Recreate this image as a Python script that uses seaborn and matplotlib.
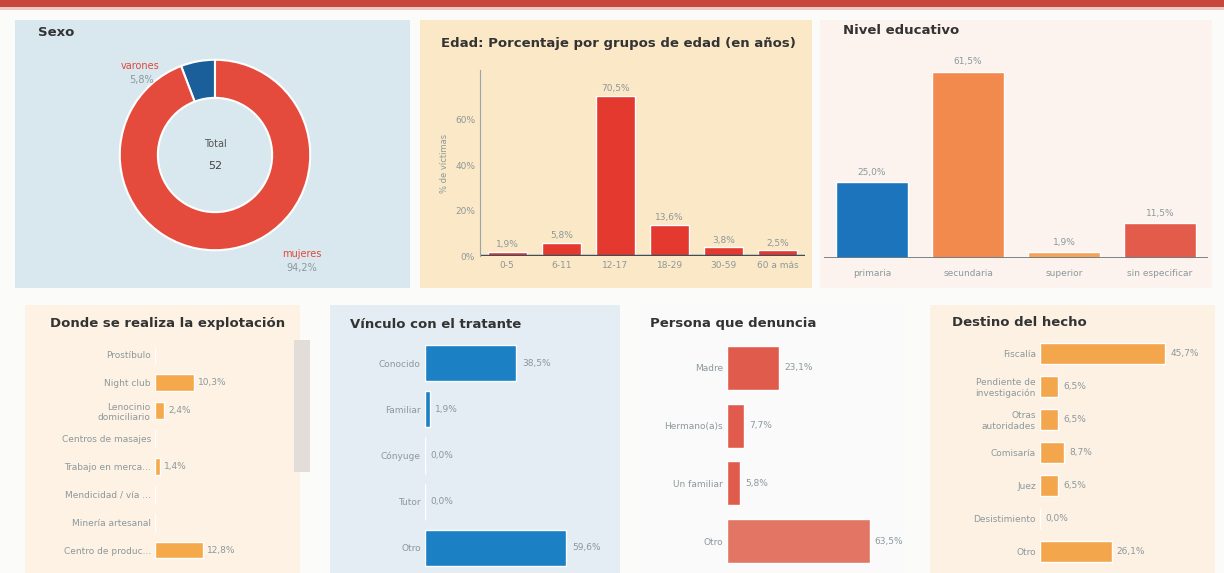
import matplotlib
matplotlib.use('Agg')
import matplotlib.pyplot as plt
import seaborn as sns
from matplotlib.patches import Rectangle

# ---- data ----
sexo_labels = ['varones', 'mujeres']
sexo_pct = [5.8, 94.2]
sexo_total = 52

edad_grupos = ['0-5', '6-11', '12-17', '18-29', '30-59', '60 a más']
edad_pct = [1.9, 5.8, 70.5, 13.6, 3.8, 2.5]

nivel_cats = ['primaria', 'secundaria', 'superior', 'sin especificar']
nivel_pct = [25.0, 61.5, 1.9, 11.5]

donde_cats = ['Prostíbulo', 'Night club', 'Lenocinio\ndomiciliario', 'Centros de masajes',
              'Trabajo en merca...', 'Mendicidad / vía ...', 'Minería artesanal', 'Centro de produc...']
donde_pct = [0.0, 10.3, 2.4, 0.0, 1.4, 0.0, 0.0, 12.8]
donde_lbl = ['', '10,3%', '2,4%', '', '1,4%', '', '', '12,8%']

vinculo_cats = ['Conocido', 'Familiar', 'Cónyuge', 'Tutor', 'Otro']
vinculo_pct = [38.5, 1.9, 0.0, 0.0, 59.6]

persona_cats = ['Madre', 'Hermano(a)s', 'Un familiar', 'Otro']
persona_pct = [23.1, 7.7, 5.8, 63.5]

destino_cats = ['Fiscalía', 'Pendiente de\ninvestigación', 'Otras\nautoridades', 'Comisaría',
                'Juez', 'Desistimiento', 'Otro']
destino_pct = [45.7, 6.5, 6.5, 8.7, 6.5, 0.0, 26.1]

W, H = 1224, 573
sns.set_style('white')
plt.rcParams['font.family'] = ['DejaVu Sans']
fig = plt.figure(figsize=(W / 100, H / 100), dpi=100, facecolor='#fbfbfa')

GRAY = '#8c989c'
TITLE = '#333333'


def fmt(v):
    return f'{v:.1f}%'.replace('.', ',')


def panel(x0, y0, x1, y1, color):
    fig.add_artist(Rectangle((x0 / W, 1 - y1 / H), (x1 - x0) / W, (y1 - y0) / H,
                             transform=fig.transFigure, facecolor=color, edgecolor='none', zorder=0))


def axes_px(x0, y0, x1, y1):
    ax = fig.add_axes([x0 / W, 1 - y1 / H, (x1 - x0) / W, (y1 - y0) / H])
    ax.set_facecolor('none')
    return ax


def ftext(x, y, s, **kw):
    fig.text(x / W, 1 - y / H, s, **kw)


# top red band
panel(0, 0, W, 7, '#c8473c')
panel(0, 7, W, 10, '#efc9c4')

# panel backgrounds
panel(15, 20, 410, 288, '#d9e7ee')
panel(420, 20, 812, 288, '#fbe8c6')
panel(820, 20, 1212, 288, '#fcf3ee')
panel(25, 305, 300, 573, '#fdf2e4')
panel(330, 305, 620, 573, '#e3edf3')
panel(640, 305, 905, 573, '#fafafa')
panel(930, 305, 1215, 573, '#fdf1e4')

# titles
tkw = dict(fontsize=9.5, fontweight='bold', color=TITLE, va='center', ha='left')
ftext(38, 33, 'Sexo', **tkw)
ftext(441, 44, 'Edad: Porcentaje por grupos de edad (en años)', **tkw)
ftext(843, 30, 'Nivel educativo', **tkw)
ftext(50, 324, 'Donde se realiza la explotación', **tkw)
ftext(350, 324, 'Vínculo con el tratante', **tkw)
ftext(650, 324, 'Persona que denuncia', **tkw)
ftext(952, 322, 'Destino del hecho', **tkw)

# ---- Sexo donut ----
ax = axes_px(115, 55, 315, 255)
ax.pie(sexo_pct, colors=['#1a5e9a', '#e54b3c'], startangle=90, counterclock=True,
       wedgeprops=dict(width=0.4, edgecolor='white', linewidth=1.5))
ax.set_xlim(-1.05, 1.05)
ax.set_ylim(-1.05, 1.05)
ax.set_aspect('equal')
ax.text(0, 0.12, 'Total', ha='center', va='center', fontsize=7, color='#555555')
ax.text(0, -0.12, str(sexo_total), ha='center', va='center', fontsize=8, color='#444444')
ftext(140, 66, sexo_labels[0], fontsize=7, color='#e0483c', ha='center', va='center')
ftext(142, 80, fmt(sexo_pct[0]), fontsize=7, color=GRAY, ha='center', va='center')
ftext(302, 254, sexo_labels[1], fontsize=7, color='#e0483c', ha='center', va='center')
ftext(302, 268, fmt(sexo_pct[1]), fontsize=7, color=GRAY, ha='center', va='center')

# ---- Edad ----
ax = axes_px(480, 70, 805, 256)
sns.barplot(x=edad_grupos, y=edad_pct, color='#e3392f', width=0.72, ax=ax, saturation=1)
ax.set_ylim(0, 82)
ax.set_yticks([0, 20, 40, 60])
ax.set_yticklabels(['0%', '20%', '40%', '60%'])
ax.bar_label(ax.containers[0], labels=[fmt(v) for v in edad_pct], fontsize=6.5, color=GRAY, padding=2)
ax.axhline(0, color='#3d4f5c', lw=2.5)
sns.despine(ax=ax, top=True, right=True)
ax.spines['left'].set_color('#9aa5a8')
ax.spines['bottom'].set_visible(False)
ax.tick_params(axis='both', labelsize=6.5, colors=GRAY, length=0)
ax.set_ylabel('% de víctimas', fontsize=6, color=GRAY)
ax.set_xlabel('')

# ---- Nivel educativo ----
ax = axes_px(824, 40, 1208, 258)
nivel_colors = ['#1c75bc', '#f28a4e', '#f5a35a', '#e35b4a']
sns.barplot(x=nivel_cats, y=nivel_pct, hue=nivel_cats, palette=nivel_colors, width=0.74,
            ax=ax, saturation=1, legend=False)
ax.set_ylim(0, 72)
for c, v in zip(ax.containers, nivel_pct):
    ax.bar_label(c, labels=[fmt(v)], fontsize=6.5, color=GRAY, padding=4)
ax.axhline(0, color='#6b7a82', lw=2)
sns.despine(ax=ax, left=True, top=True, right=True, bottom=True)
ax.set_yticks([])
ax.tick_params(axis='x', labelsize=6.5, colors=GRAY, length=0, pad=8)
ax.set_xlabel('')


def hbars(ax, cats, vals, color, height, xmax, labels=None, colors=None):
    if colors is None:
        sns.barplot(x=vals, y=cats, orient='h', color=color, width=height, ax=ax, saturation=1)
    else:
        sns.barplot(x=vals, y=cats, orient='h', hue=cats, palette=colors, width=height,
                    ax=ax, saturation=1, legend=False)
    ax.set_xlim(0, xmax)
    if labels is None:
        labels = [fmt(v) for v in vals]
    bars = [p for c in ax.containers for p in c]
    for p, lab in zip(bars, labels):
        ax.text(p.get_width() + xmax * 0.03, p.get_y() + p.get_height() / 2, lab,
                fontsize=6.5, color=GRAY, va='center', ha='left')
    sns.despine(ax=ax, left=True, bottom=True, top=True, right=True)
    ax.set_xticks([])
    ax.tick_params(axis='y', labelsize=6.5, colors=GRAY, length=0, pad=3)
    ax.set_xlabel('')
    ax.set_ylabel('')


# ---- Donde ----
ax = axes_px(155, 341, 290, 564)
hbars(ax, donde_cats, donde_pct, '#f5a94a', 0.6, 36, labels=donde_lbl)
panel(294, 340, 310, 472, '#e2ddd8')

# ---- Vínculo ----
ax = axes_px(425, 340, 610, 571)
hbars(ax, vinculo_cats, vinculo_pct, '#1b80c4', 0.78, 78)

# ---- Persona ----
ax = axes_px(727, 339, 900, 570)
persona_colors = ['#e15b4d', '#e15b4d', '#e15b4d', '#e27564']
hbars(ax, persona_cats, persona_pct, None, 0.76, 77, colors=persona_colors)

# ---- Destino ----
ax = axes_px(1040, 337, 1210, 568)
hbars(ax, destino_cats, destino_pct, '#f3a64c', 0.64, 62)

fig.savefig('out.png', dpi=100, facecolor=fig.get_facecolor())
